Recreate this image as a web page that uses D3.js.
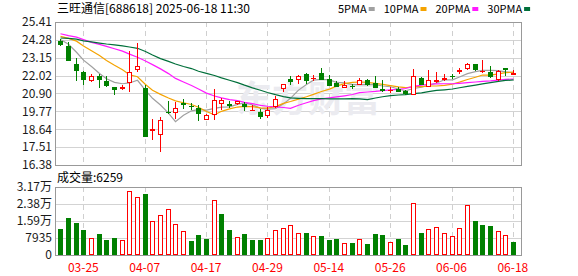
<!DOCTYPE html>
<html>
<head>
<meta charset="utf-8">
<script src="https://cdn.jsdelivr.net/npm/d3@7/dist/d3.min.js"></script>
<style>
  body { margin: 0; background: #fff; }
  text { font-family: "Noto Sans CJK SC", "Liberation Sans", sans-serif; }
</style>
</head>
<body>
<svg id="chart" width="578" height="276"></svg>
<script>
// trading days shown on the chart
const dates = ['03-20','03-21','03-24','03-25','03-26','03-27','03-28','03-31','04-01','04-02',
  '04-03','04-07','04-08','04-09','04-10','04-11','04-14','04-15','04-16','04-17',
  '04-18','04-21','04-22','04-23','04-24','04-25','04-28','04-29','04-30','05-06',
  '05-07','05-08','05-09','05-12','05-13','05-14','05-15','05-16','05-19','05-20',
  '05-21','05-22','05-23','05-26','05-27','05-28','05-29','05-30','06-03','06-04',
  '06-05','06-06','06-09','06-10','06-11','06-12','06-13','06-16','06-17','06-18'];

const opens = [24.21,23.91,22.76,22.25,21.70,22.02,21.70,21.28,21.20,21.56,
  22.40,21.24,18.51,18.29,19.70,19.64,20.27,20.12,20.00,19.20,
  19.56,20.23,20.23,20.25,20.23,19.84,19.73,19.45,20.04,21.20,
  21.80,21.77,22.13,21.86,22.19,21.81,21.56,21.24,21.40,21.45,
  21.77,21.56,21.18,21.08,21.18,21.03,20.82,21.88,21.28,21.62,
  21.73,22.00,22.23,22.44,22.76,22.26,22.25,21.73,22.51,22.08];
const highs = [24.35,24.15,23.14,22.33,22.13,22.13,21.98,21.30,21.45,23.56,
  24.08,21.45,19.30,19.41,20.42,20.38,20.55,20.28,20.19,19.62,
  21.18,20.63,20.40,20.45,20.36,20.17,19.93,20.04,20.76,21.51,
  21.98,22.06,22.17,22.04,22.52,22.04,21.66,21.66,21.50,21.88,
  21.80,22.02,21.77,21.30,21.30,21.10,22.44,21.93,22.40,22.25,
  22.13,22.13,22.50,22.85,22.76,23.00,22.65,22.38,22.51,22.40];
const lows = [23.90,22.93,21.66,21.45,21.60,21.24,21.28,20.82,21.09,20.99,
  22.23,18.13,17.98,17.18,19.62,19.28,19.93,19.87,19.14,19.20,
  19.24,19.87,19.98,20.20,19.81,19.84,19.30,19.35,19.98,20.97,
  21.45,21.51,21.49,21.66,21.75,21.37,21.28,21.24,21.20,21.45,
  21.35,21.22,21.00,20.95,20.97,20.80,20.80,21.45,21.28,21.55,
  21.70,21.83,22.10,22.40,22.30,22.19,21.85,21.68,22.02,22.05];
const closes = [23.96,22.97,22.30,21.77,21.98,21.77,21.35,21.13,21.30,22.23,
  22.66,18.13,18.65,19.20,19.64,19.96,20.15,20.06,19.58,19.52,
  20.50,20.47,20.12,20.40,20.02,19.87,19.39,19.87,20.55,21.51,
  21.62,22.02,21.66,21.90,21.77,21.39,21.30,21.45,21.37,21.73,
  21.45,21.24,21.07,21.12,21.00,20.88,21.98,21.45,21.73,21.77,
  21.88,21.97,22.36,22.78,22.40,22.30,21.92,22.30,22.40,22.19];

const volumes = [12137,17427,15093,11670,7780,9803,7002,7936,6846,29720,
  26919,28475,15716,18516,21473,14315,11203,6535,9336,7469,
  25674,19139,11670,8402,9803,7002,7002,7780,11514,12604,
  13848,10114,10270,8714,8869,7002,7469,5446,5602,7313,
  5135,9803,9336,6068,7469,4668,24118,10270,12137,13070,
  10270,8869,12604,23340,15871,14004,13537,11203,9336,6259];

// moving averages
const ma5 = [24.30,24.00,23.50,23.00,22.60,22.16,21.83,21.60,21.51,21.56,
  21.73,21.09,20.59,20.17,19.66,19.12,19.52,19.80,19.88,19.85,
  19.96,20.03,20.05,20.21,20.30,20.18,19.96,19.91,19.94,20.24,
  20.59,21.11,21.47,21.74,21.79,21.75,21.60,21.56,21.46,21.45,
  21.46,21.45,21.37,21.32,21.18,21.06,21.21,21.29,21.41,21.56,
  21.76,21.76,21.94,22.15,22.28,22.36,22.35,22.34,22.26,22.22];
const ma10 = [24.50,24.38,24.20,23.90,23.60,23.30,22.98,22.68,22.40,22.08,
  21.95,21.46,21.10,20.84,20.61,20.43,20.31,20.20,20.03,19.76,
  19.55,19.77,19.92,20.04,20.08,20.07,19.99,19.97,20.07,20.27,
  20.39,20.54,20.69,20.84,21.02,21.17,21.36,21.52,21.60,21.62,
  21.60,21.53,21.47,21.39,21.31,21.26,21.33,21.33,21.37,21.37,
  21.41,21.49,21.61,21.78,21.92,22.06,22.06,22.14,22.21,22.25];
const ma20 = [24.67,24.55,24.45,24.30,24.12,24.00,23.87,23.72,23.57,23.38,
  23.18,22.95,22.72,22.45,22.15,21.85,21.62,21.40,21.18,20.92,
  20.74,20.62,20.51,20.44,20.34,20.25,20.15,20.09,20.05,20.01,
  19.96,20.15,20.31,20.44,20.55,20.62,20.68,20.75,20.83,20.95,
  20.99,21.03,21.08,21.12,21.16,21.21,21.34,21.42,21.48,21.50,
  21.51,21.51,21.54,21.58,21.62,21.66,21.69,21.74,21.79,21.81];
const ma30 = [24.40,24.37,24.33,24.22,24.15,24.08,24.02,23.97,23.90,23.83,
  23.75,23.55,23.33,23.10,22.92,22.76,22.60,22.47,22.30,22.17,
  22.03,21.88,21.73,21.58,21.42,21.25,21.10,20.96,20.82,20.70,
  20.62,20.59,20.57,20.57,20.57,20.55,20.55,20.56,20.57,20.55,
  20.51,20.61,20.69,20.76,20.80,20.83,20.89,20.94,21.01,21.09,
  21.13,21.18,21.26,21.34,21.42,21.50,21.58,21.66,21.72,21.75];

const maNames = ['5PMA', '10PMA', '20PMA', '30PMA'];
const maColors = ['#a0a0a0', '#f5a300', '#ff1aff', '#006f3a'];

const priceTicks = [16.38, 17.51, 18.64, 19.77, 20.90, 22.02, 23.15, 24.28, 25.41];
const volTicks = [0, 7935, 15870, 23805, 31740];
const volTickLabels = ['0', '7935', '1.59万', '2.38万', '3.17万'];
const labelDates = ['03-25', '04-07', '04-17', '04-29', '05-14', '05-26', '06-06', '06-18'];

const titleText = '三旺通信[688618] 2025-06-18 11:30';

const red = '#ff0000', green = '#008000';

const svg = d3.select('#chart');
const left = 56, right = 522;
const priceTop = 22, priceBottom = 165, volTop = 187, volBottom = 255;

const x = d3.scaleBand()
  .domain(dates)
  .range([56.5, 516.7])
  .paddingInner(0.35)
  .paddingOuter(0.175);
const cx = d => Math.round(x(d) + x.bandwidth() / 2);

const y = d3.scaleLinear().domain([16.38, 25.41]).range([priceBottom, priceTop]);
const yv = d3.scaleLinear().domain([0, 31740]).range([volBottom, volTop]);

// title + legend
svg.append('text')
  .attr('x', 57).attr('y', 13)
  .attr('font-size', 12).attr('fill', '#000')
  .text(titleText);

let lx = 338;
maNames.forEach((name, i) => {
  const t = svg.append('text')
    .attr('x', lx).attr('y', 13)
    .attr('font-size', 11).attr('fill', '#000')
    .text(name);
  lx += t.node().getComputedTextLength() + 2;
  svg.append('rect')
    .attr('x', lx).attr('y', 7)
    .attr('width', 6).attr('height', 4)
    .attr('fill', maColors[i]);
  lx += 15;
});

// grid: horizontal lines + y labels
const priceAxis = svg.append('g')
  .attr('transform', `translate(${left},0)`)
  .call(d3.axisLeft(y).tickValues(priceTicks).tickSize(-(right - left)).tickPadding(4)
    .tickFormat(d => d.toFixed(2)));
priceAxis.select('.domain').remove();
priceAxis.selectAll('line').attr('stroke', '#d3d3d3').attr('shape-rendering', 'crispEdges');
priceAxis.selectAll('text').attr('font-size', 12).attr('fill', '#1a1a1a')
  .attr('font-family', '"Liberation Sans", sans-serif');

const volAxis = svg.append('g')
  .attr('transform', `translate(${left},0)`)
  .call(d3.axisLeft(yv).tickValues(volTicks).tickSize(-(right - left)).tickPadding(4)
    .tickFormat((d, i) => volTickLabels[i]));
volAxis.select('.domain').remove();
volAxis.selectAll('line').attr('stroke', '#d3d3d3').attr('shape-rendering', 'crispEdges');
volAxis.selectAll('text').attr('font-size', 12).attr('fill', '#1a1a1a');

// vertical dashed lines at labelled dates
[[priceTop, priceBottom], [volTop, volBottom]].forEach(([t, b]) => {
  svg.append('g').selectAll('line')
    .data(labelDates)
    .enter().append('line')
      .attr('x1', d => cx(d) + 0.5).attr('x2', d => cx(d) + 0.5)
      .attr('y1', t).attr('y2', b)
      .attr('stroke', '#cfcfcf')
      .attr('stroke-dasharray', '5,4');
});

// date labels
const xAxis = svg.append('g')
  .attr('transform', `translate(0,${volBottom})`)
  .call(d3.axisBottom(x).tickValues(labelDates).tickSize(0).tickPadding(8));
xAxis.select('.domain').remove();
xAxis.selectAll('text').attr('font-size', 12).attr('fill', red)
  .attr('font-family', '"Liberation Sans", sans-serif');

// watermark
svg.append('text')
  .attr('x', 236).attr('y', 112)
  .attr('font-size', 36).attr('font-weight', 'bold')
  .attr('fill', '#ebebf0')
  .text('东方财富');

// frames
[[priceTop, priceBottom], [volTop, volBottom]].forEach(([t, b]) => {
  svg.append('rect')
    .attr('x', left - 0.5).attr('y', t + 0.5)
    .attr('width', right - left).attr('height', b - t)
    .attr('fill', 'none').attr('stroke', '#999');
});

// MA lines
const mas = [ma5, ma10, ma20, ma30];
const line = d3.line()
  .x((d, i) => cx(dates[i]) + 0.5)
  .y(d => y(d));
const maG = svg.append('g');
mas.forEach((vals, k) => {
  maG.append('path')
    .datum(vals)
    .attr('d', line)
    .attr('fill', 'none')
    .attr('stroke', maColors[k])
    .attr('stroke-width', 1.2);
});

// hollow (red) or solid (green) box, drawn as an outer rect plus white inner rect
function drawBox(g, bx, top, h, hollow) {
  g.append('rect')
    .attr('x', bx).attr('y', top)
    .attr('width', 5).attr('height', h)
    .attr('fill', hollow ? red : green)
    .attr('shape-rendering', 'crispEdges');
  if (hollow && h > 2) {
    g.append('rect')
      .attr('x', bx + 1).attr('y', top + 1)
      .attr('width', 3).attr('height', h - 2)
      .attr('fill', '#fff')
      .attr('shape-rendering', 'crispEdges');
  }
}

// candles
const idx = d3.range(dates.length);
const up = i => closes[i] >= opens[i];
const candleG = svg.append('g');
candleG.selectAll('g')
  .data(idx)
  .enter().append('g')
  .each(function(i) {
    const g = d3.select(this);
    const c = cx(dates[i]);
    g.append('line')
      .attr('x1', c + 0.5).attr('x2', c + 0.5)
      .attr('y1', Math.round(y(highs[i]))).attr('y2', Math.round(y(lows[i])))
      .attr('stroke', up(i) ? red : green);
    const top = Math.round(y(Math.max(opens[i], closes[i])));
    const h = Math.max(1, Math.round(y(Math.min(opens[i], closes[i]))) - top);
    drawBox(g, c - 2, top, h, up(i));
  });

// volume bars: colour by close vs previous close
const volUp = i => i === 0 ? closes[0] >= opens[0] : closes[i] >= closes[i - 1];
svg.append('g').selectAll('g')
  .data(idx)
  .enter().append('g')
  .each(function(i) {
    const top = Math.round(yv(volumes[i]));
    drawBox(d3.select(this), cx(dates[i]) - 2, top, volBottom - top, volUp(i));
  });

// volume caption
svg.append('text')
  .attr('x', 57).attr('y', 182)
  .attr('font-size', 12).attr('fill', '#000')
  .text('成交量:' + volumes[volumes.length - 1]);
</script>
</body>
</html>
